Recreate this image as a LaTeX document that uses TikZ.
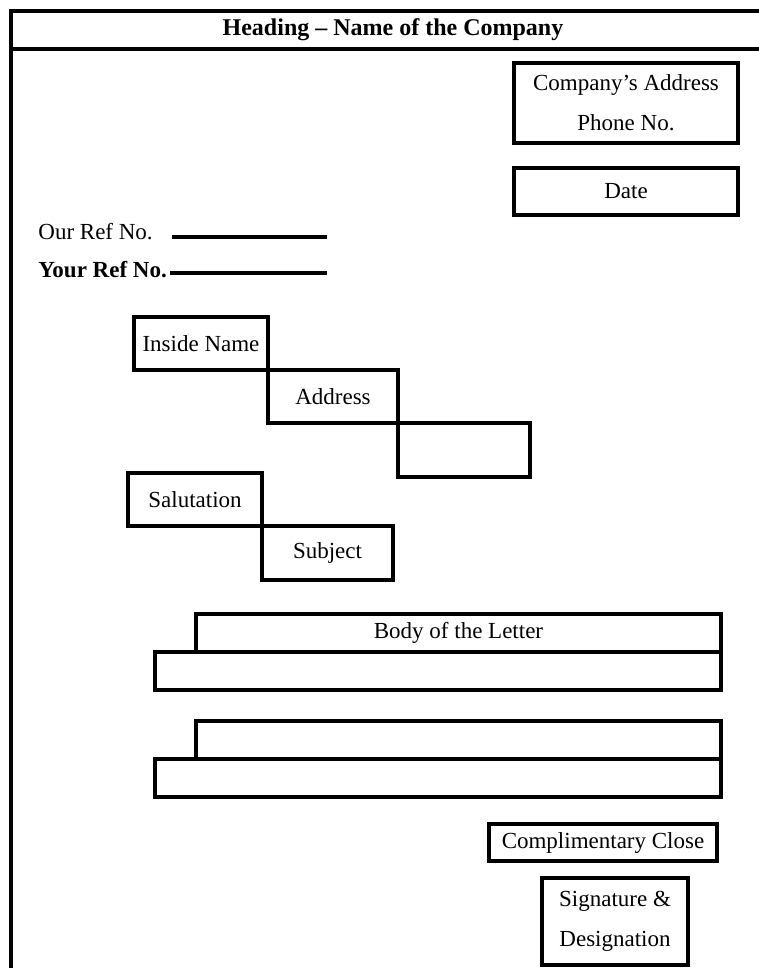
\documentclass[tikz,border=0pt]{standalone}
\usepackage{fontspec}
\setmainfont{Liberation Serif}
\usetikzlibrary{positioning}

\begin{document}
\begin{tikzpicture}[x=0.5pt, y=-0.5pt,
  % 
  field/.style ={rectangle, draw=black, line width=1.8pt, outer sep=0pt,
    inner sep=1pt, align=center, font=\fontsize{11.5}{20}\selectfont},
  %
  reftext/.style ={anchor=west, inner sep=0pt, font=\fontsize{11.5}{14}\selectfont},
  %
  refline/.style ={line width=1.7pt}
  ]

  \useasboundingbox (0,0) rectangle (759,968);

  % frame and heading
  \draw [line width=2.2pt] (11,968) -- (11,11) -- (759,11);
  \draw [line width=1.6pt] (11,49) -- (759,49);
  \node [font=\fontsize{12}{14}\selectfont\bfseries] (heading) at (393,30)
    {Heading -- Name of the Company};

  \begin{scope}
    \node [field, minimum width=112pt, minimum height=40pt] (compAddr) at (626,103)
      {Company's Address\\Phone No.};
    \node [field, minimum width=112pt, minimum height=23.5pt] (date) at (626,191.5)
      {Date};
  \end{scope}

  \begin{scope}
    \node [reftext] (ourRef) at (38,232) {Our Ref No.};
    \node [reftext, font=\fontsize{11.5}{14}\selectfont\bfseries] (yourRef) at (38,270)
      {Your Ref No.};
    \coordinate (ourRefA) at (172,237);
    \coordinate (ourRefB) at (327,237);
    \coordinate (yourRefA) at (170,273);
    \coordinate (yourRefB) at (327,273);
    \draw [refline] (ourRefA) -- (ourRefB);
    \draw [refline] (yourRefA) -- (yourRefB);
  \end{scope}

  \begin{scope}
    \node [field, minimum width=67pt, minimum height=26.5pt] (insideName) at (201,343.5)
      {Inside Name};
    \node [field, minimum width=65pt, minimum height=26.5pt, anchor=north west]
      (address) at (insideName.south east) {Address};
    \node [field, minimum width=66pt, minimum height=27pt, anchor=north west]
      (addressMore) at (address.south east) {};
    %%%%%%%%%%%%%%%%%%%%%%%%%%%%%%%
    \node [field, minimum width=67pt, minimum height=26.5pt] (salutation) at (195,499.5)
      {Salutation};
    \node [field, minimum width=65.5pt, minimum height=27pt, anchor=north west]
      (subject) at (salutation.south east) {Subject};
  \end{scope}

  \begin{scope}
    \node [field, minimum width=262.5pt, minimum height=19pt, anchor=north west]
      (bodyTop) at (196,614) {Body of the Letter};
    \node [field, minimum width=283pt, minimum height=19pt, anchor=north east]
      (bodyLow) at (bodyTop.south east) {};
    %%%%%%%%%%%%%%%%%%%%%%%%%%%%%%%
    \node [field, minimum width=262.5pt, minimum height=19pt, anchor=north west]
      (paraTop) at (196,721) {};
    \node [field, minimum width=283pt, minimum height=19pt, anchor=north east]
      (paraLow) at (paraTop.south east) {};
  \end{scope}

  \begin{scope}
    \node [field, minimum width=114pt, minimum height=18.5pt] (compClose) at (603,842.5)
      {Complimentary Close};
    \node [field, minimum width=73pt, minimum height=43.5pt] (signature) at (615,921.5)
      {Signature \&\\Designation};
  \end{scope}

\end{tikzpicture}
\end{document}
